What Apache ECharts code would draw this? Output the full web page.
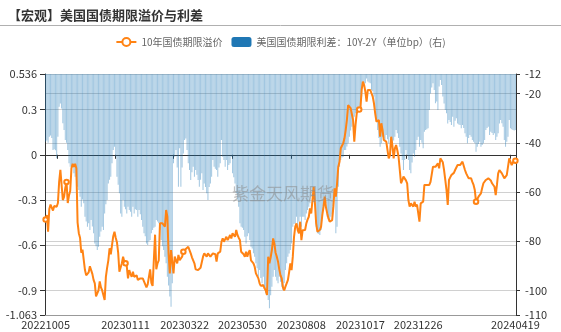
<!DOCTYPE html>
<html>
<head>
<meta charset="utf-8">
<script src="https://cdn.jsdelivr.net/npm/echarts@6/dist/echarts.min.js"></script>
<style>
  html, body { margin: 0; padding: 0; background: #fff; }
  #chart { width: 561px; height: 332px; }
</style>
</head>
<body>
<div id="chart"></div>
<script>
// Trading calendar: US bond-market business days
const startDate = '2022-10-05';
const endDate = '2024-04-19';
const marketHolidays = ['20221010','20221111','20221124','20221226','20230102','20230116','20230220',
  '20230407','20230529','20230619','20230704','20230904','20231009','20231110','20231123','20231225',
  '20240101','20240115','20240219','20240329'];

// Dates shown under the axis
const labelDates = ['20221005','20230111','20230322','20230530','20230808','20231017','20231226','20240419'];

// Left axis (term premium) and right axis (spread, bp) tick values
const leftTicks = [-1.063, -0.9, -0.6, -0.3, 0, 0.3, 0.536];
const rightTicks = [-110, -100, -80, -60, -40, -20, -12];

// 10-year Treasury term premium
const termPremium = [
  -0.43,-0.40,-0.51,-0.36,-0.33,-0.35,-0.37,-0.34,-0.33,-0.345,
  -0.32,-0.18,-0.10,-0.09,-0.30,-0.28,-0.22,-0.18,-0.32,-0.27,
  -0.24,-0.09,-0.06,-0.08,-0.06,-0.09,-0.45,-0.52,-0.55,-0.65,
  -0.63,-0.62,-0.765,-0.80,-0.81,-0.78,-0.74,-0.73,-0.79,-0.83,
  -0.853,-0.94,-0.95,-0.90,-0.84,-0.88,-0.90,-0.91,-0.963,-0.81,
  -0.75,-0.70,-0.62,-0.66,-0.60,-0.54,-0.51,-0.55,-0.58,-0.65,
  -0.776,-0.765,-0.72,-0.676,-0.71,-0.72,-0.74,-0.82,-0.765,-0.79,
  -0.81,-0.776,-0.81,-0.82,-0.80,-0.83,-0.82,-0.82,-0.81,-0.82,
  -0.84,-0.85,-0.88,-0.86,-0.85,-0.76,-0.85,-0.87,-0.88,-0.53,
  -0.76,-0.72,-0.70,-0.455,-0.466,-0.455,-0.465,-0.477,-0.366,-0.41,
  -0.654,-0.787,-0.632,-0.643,-0.787,-0.676,-0.70,-0.72,-0.665,-0.70,
  -0.69,-0.676,-0.643,-0.632,-0.625,-0.621,-0.61,-0.632,-0.654,-0.68,
  -0.70,-0.72,-0.76,-0.765,-0.765,-0.765,-0.75,-0.743,-0.676,-0.654,
  -0.665,-0.676,-0.654,-0.665,-0.676,-0.665,-0.654,-0.643,-0.66,-0.709,
  -0.654,-0.65,-0.643,-0.577,-0.555,-0.577,-0.56,-0.544,-0.566,-0.55,
  -0.532,-0.555,-0.521,-0.53,-0.544,-0.499,-0.532,-0.55,-0.566,-0.643,
  -0.654,-0.66,-0.676,-0.643,-0.676,-0.65,-0.632,-0.70,-0.71,-0.72,
  -0.743,-0.787,-0.80,-0.82,-0.853,-0.87,-0.875,-0.864,-0.886,-0.90,
  -0.93,-0.676,-0.72,-0.68,-0.632,-0.555,-0.588,-0.65,-0.676,-0.709,
  -0.76,-0.80,-0.82,-0.88,-0.90,-0.875,-0.853,-0.831,-0.78,-0.72,
  -0.765,-0.676,-0.544,-0.477,-0.455,-0.50,-0.521,-0.444,-0.566,-0.50,
  -0.488,-0.499,-0.455,-0.43,-0.411,-0.355,-0.389,-0.30,-0.212,-0.322,
  -0.455,-0.51,-0.521,-0.499,-0.477,-0.40,-0.344,-0.278,-0.35,-0.389,
  -0.422,-0.444,-0.44,-0.433,-0.344,-0.223,-0.278,-0.19,-0.079,-0.046,
  0.043,0.06,0.076,0.109,0.164,0.231,0.33,0.33,0.31,0.297,
  0.231,0.087,0.198,0.275,0.297,0.30,0.308,0.43,0.485,0.463,
  0.419,0.352,0.43,0.441,0.43,0.441,0.386,0.341,0.275,0.22,
  0.209,0.231,0.12,0.209,0.164,0.098,0.109,0.087,0.076,-0.024,
  -0.002,0.12,0.06,-0.024,0.043,0.065,0.03,-0.013,-0.02,-0.189,
  -0.17,-0.145,-0.156,-0.17,-0.189,-0.30,-0.344,-0.322,-0.33,-0.344,
  -0.311,-0.344,-0.33,-0.322,-0.444,-0.322,-0.32,-0.311,-0.20,-0.21,
  -0.20,-0.189,-0.20,-0.18,-0.167,-0.079,-0.068,-0.08,-0.09,-0.057,
  -0.09,-0.024,-0.024,-0.05,-0.101,-0.167,-0.234,-0.333,-0.167,-0.15,
  -0.134,-0.145,-0.12,-0.101,-0.09,-0.068,-0.07,-0.068,-0.057,-0.046,
  -0.035,-0.101,-0.123,-0.14,-0.156,-0.145,-0.156,-0.18,-0.20,-0.234,
  -0.311,-0.30,-0.278,-0.267,-0.256,-0.22,-0.189,-0.178,-0.167,-0.16,
  -0.156,-0.156,-0.17,-0.189,-0.20,-0.212,-0.267,-0.20,-0.123,-0.101,
  -0.11,-0.123,-0.134,-0.156,-0.145,-0.135,-0.123,-0.024,-0.013,-0.068,
  -0.05,-0.046,-0.039
];

// 10Y-2Y Treasury spread, bp
const spread10y2y = [
  -39.5,-39,-40,-37.5,-37,-38,-42.9,-42.6,-43,-46.3,
  -37.5,-25.3,-24,-26,-32,-34.8,-38.8,-40,-42.9,-48.3,
  -49.7,-51,-50,-52.4,-53.8,-55,-57.8,-59.2,-61.9,-66,
  -63,-64.6,-70,-72,-74.1,-72.7,-75.4,-71.4,-74,-76.8,
  -80.9,-82,-83.6,-82.2,-78.2,-76,-74.1,-75.4,-68.7,-65,
  -63.2,-56.5,-55,-53.8,-48.3,-42.9,-41.6,-45.6,-53.8,-57,
  -60.5,-68.7,-70,-63.2,-66,-67,-68.7,-66,-67.3,-68,
  -70,-66,-68.7,-67,-67.3,-70,-67.3,-69,-71.4,-74.1,
  -76.8,-78,-80.9,-81.5,-80,-79.5,-76.8,-75.4,-74.5,-74.1,
  -71.4,-72,-72.7,-75.4,-79.5,-82,-83.6,-86.3,-89,-94.4,
  -98,-102.5,-106.6,-97.1,-48.3,-45.6,-42.9,-50,-57.8,-42.2,
  -57.8,-50,-44.3,-38.8,-38.2,-42.9,-48.3,-51,-55.1,-52,
  -49.7,-53.8,-51,-53,-55.1,-57.8,-55,-52.4,-59.2,-56.5,
  -58,-60.5,-63.2,-58,-56.5,-53.8,-47,-49.7,-50.5,-51,
  -53.8,-50,-48.3,-38.8,-45.6,-47,-49.7,-47,-51,-49,
  -48.3,-45.6,-52.4,-54,-56.5,-60.5,-63,-66,-72.7,-74.1,
  -74.5,-75.4,-78.2,-80.9,-78,-76.8,-79.5,-82.2,-83,-84.9,
  -86.3,-89,-91,-94.4,-91.7,-95,-97.1,-94.4,-98.5,-101.2,
  -102,-103.9,-107.3,-102,-98.5,-94.4,-91.7,-94.4,-96,-97.1,
  -94.4,-96.5,-98.5,-99.8,-97,-91.7,-89,-86.3,-85,-83.6,
  -80.9,-74.1,-73,-72.7,-70,-74.1,-72,-70,-74.1,-70,
  -70,-71.4,-68.7,-67.3,-66,-64.6,-61.9,-60,-57.8,-63.2,
  -74.1,-76.8,-77,-77.5,-75.4,-70,-67.3,-63.2,-64.6,-70,
  -71,-71.4,-70,-69,-67.3,-61.9,-76.8,-74.1,-57.8,-49.7,
  -47,-46,-45.6,-42.9,-42.9,-41.5,-40.2,-37.5,-35,-33.4,
  -30.7,-29.4,-28,-27.3,-26.6,-25,-23.9,-21.2,-15.8,-16,
  -15.8,-13.8,-15.1,-15.5,-15.8,-18.5,-19,-21.2,-26.6,-30.7,
  -34.8,-38,-41.6,-40.2,-37.5,-38,-38.8,-36.8,-38.5,-40.2,
  -37.5,-38.8,-40.2,-39,-37.5,-34.8,-36.1,-38,-41.6,-44.3,
  -47,-51,-47,-42.9,-45,-47,-51,-52.4,-48,-44.3,
  -45.6,-42.9,-38.8,-37.5,-41.6,-38.8,-40,-42.2,-35.5,-34.8,
  -34.5,-34.1,-26.6,-19.9,-17.5,-15.8,-18.5,-23.9,-23.2,-26.6,
  -17.1,-14.4,-16.5,-21.2,-24,-26.6,-28,-32.1,-30.7,-31.5,
  -32.7,-29.4,-33.4,-31,-30,-32.1,-32.5,-32.7,-34.1,-32.7,
  -34,-36.1,-37.5,-40.2,-38,-36.8,-37.5,-38.8,-39.5,-40.2,
  -43.6,-41.6,-40.5,-39.5,-41.6,-40.9,-40.2,-38.8,-34.8,-34,
  -33.4,-36.8,-35.5,-36,-36.8,-36.1,-38.8,-37.5,-36.1,-32.1,
  -30.7,-32,-33.4,-38.8,-41.6,-39.5,-37.5,-30.7,-34.1,-34.5,
  -34.8,-35,-34.8
];

// Points of the premium line that carry a hollow marker
const markerIndex = [0, 17, 65, 112, 255, 350, 382];
// Tick positions on the zero line
const zeroTickIndex = [10, 57, 104, 152, 200, 247, 294, 378];

function buildDates(from, to, skip) {
  const out = [];
  const skipSet = new Set(skip);
  const d = new Date(from + 'T00:00:00Z');
  const end = new Date(to + 'T00:00:00Z');
  while (d <= end) {
    const wd = d.getUTCDay();
    const s = d.getUTCFullYear() + String(d.getUTCMonth() + 1).padStart(2, '0') + String(d.getUTCDate()).padStart(2, '0');
    if (wd !== 0 && wd !== 6 && !skipSet.has(s)) out.push(s);
    d.setUTCDate(d.getUTCDate() + 1);
  }
  return out;
}

const dates = buildDates(startDate, endDate, marketHolidays);
const labelSet = new Set(labelDates);
const zeroTickSet = new Set(zeroTickIndex);
const markerSet = new Set(markerIndex);

const premiumName = '10年国债期限溢价';
const spreadName = '美国国债期限利差：10Y-2Y（单位bp）(右)';
const font = "'Noto Sans CJK SC', 'Noto Sans', sans-serif";

const chart = echarts.init(document.getElementById('chart'), null, { renderer: 'canvas' });

chart.setOption({
  animation: false,
  textStyle: { fontFamily: font },
  title: {
    text: '【宏观】美国国债期限溢价与利差',
    left: 3, top: 4,
    textStyle: { fontSize: 13, fontWeight: 'bold', color: '#333', fontFamily: font }
  },
  graphic: [
    { type: 'line', shape: { x1: 0, y1: 25.5, x2: 561, y2: 25.5 }, style: { stroke: '#b0b0b0', lineWidth: 1 }, z: 10 },
    { type: 'text', left: 232, top: 185, z: 100,
      style: { text: '紫金天风期货', fill: 'rgba(140,140,140,0.55)', font: "17px 'Noto Sans CJK SC'" } }
  ],
  legend: {
    top: 32, left: 'center',
    itemWidth: 20, itemHeight: 10, itemGap: 9,
    textStyle: { fontSize: 10, color: '#666', fontFamily: font },
    data: [
      { name: premiumName },
      { name: spreadName, icon: 'roundRect', itemStyle: { color: '#1f77b4', opacity: 1 } }
    ]
  },
  grid: { left: 45, right: 45, top: 74, bottom: 17, containLabel: false },
  xAxis: [
    {
      type: 'category', data: dates, boundaryGap: true,
      axisLine: { onZero: false, lineStyle: { color: '#999' } },
      axisTick: { show: false },
      axisLabel: { interval: (i, v) => labelSet.has(v), color: '#333', fontSize: 11, margin: 4, fontFamily: font },
      splitLine: { show: false }
    },
    {
      type: 'category', data: dates, boundaryGap: true, position: 'bottom',
      axisLine: { show: true, onZero: true, onZeroAxisIndex: 0, lineStyle: { color: '#333' } },
      axisTick: { show: true, interval: (i) => zeroTickSet.has(i), length: 4, lineStyle: { color: '#333' } },
      axisLabel: { show: false },
      splitLine: { show: false }
    }
  ],
  yAxis: [
    {
      type: 'value', position: 'left', min: -1.063, max: 0.536,
      axisLine: { show: true, lineStyle: { color: '#333' } },
      axisTick: { show: true, length: 5, customValues: leftTicks, lineStyle: { color: '#333' } },
      axisLabel: { customValues: leftTicks, color: '#333', fontSize: 11, margin: 8, fontFamily: font },
      splitLine: { show: true, lineStyle: { color: '#d0d0d0', width: 1 } }
    },
    {
      type: 'value', position: 'right', min: -110, max: -12,
      axisLine: { show: true, lineStyle: { color: '#333' } },
      axisTick: { show: true, length: 4, customValues: rightTicks, lineStyle: { color: '#333' } },
      axisLabel: { customValues: rightTicks, color: '#333', fontSize: 11, margin: 9, fontFamily: font },
      splitLine: { show: true, lineStyle: { color: '#d0d0d0', width: 1 } }
    }
  ],
  series: [
    {
      name: spreadName, type: 'bar', xAxisIndex: 0, yAxisIndex: 1,
      data: spread10y2y,
      barCategoryGap: '25%',
      itemStyle: { color: 'rgba(31,119,180,0.42)' }
    },
    {
      name: premiumName, type: 'line', xAxisIndex: 0, yAxisIndex: 0,
      data: termPremium.map((v, i) => markerSet.has(i) ? v : { value: v, symbol: 'none' }),
      symbol: 'emptyCircle', symbolSize: 4.5, showSymbol: true, showAllSymbol: true,
      lineStyle: { color: '#ff8314', width: 2 },
      itemStyle: { color: '#ff8314', borderColor: '#ff8314', borderWidth: 1 }
    }
  ]
});
</script>
</body>
</html>
